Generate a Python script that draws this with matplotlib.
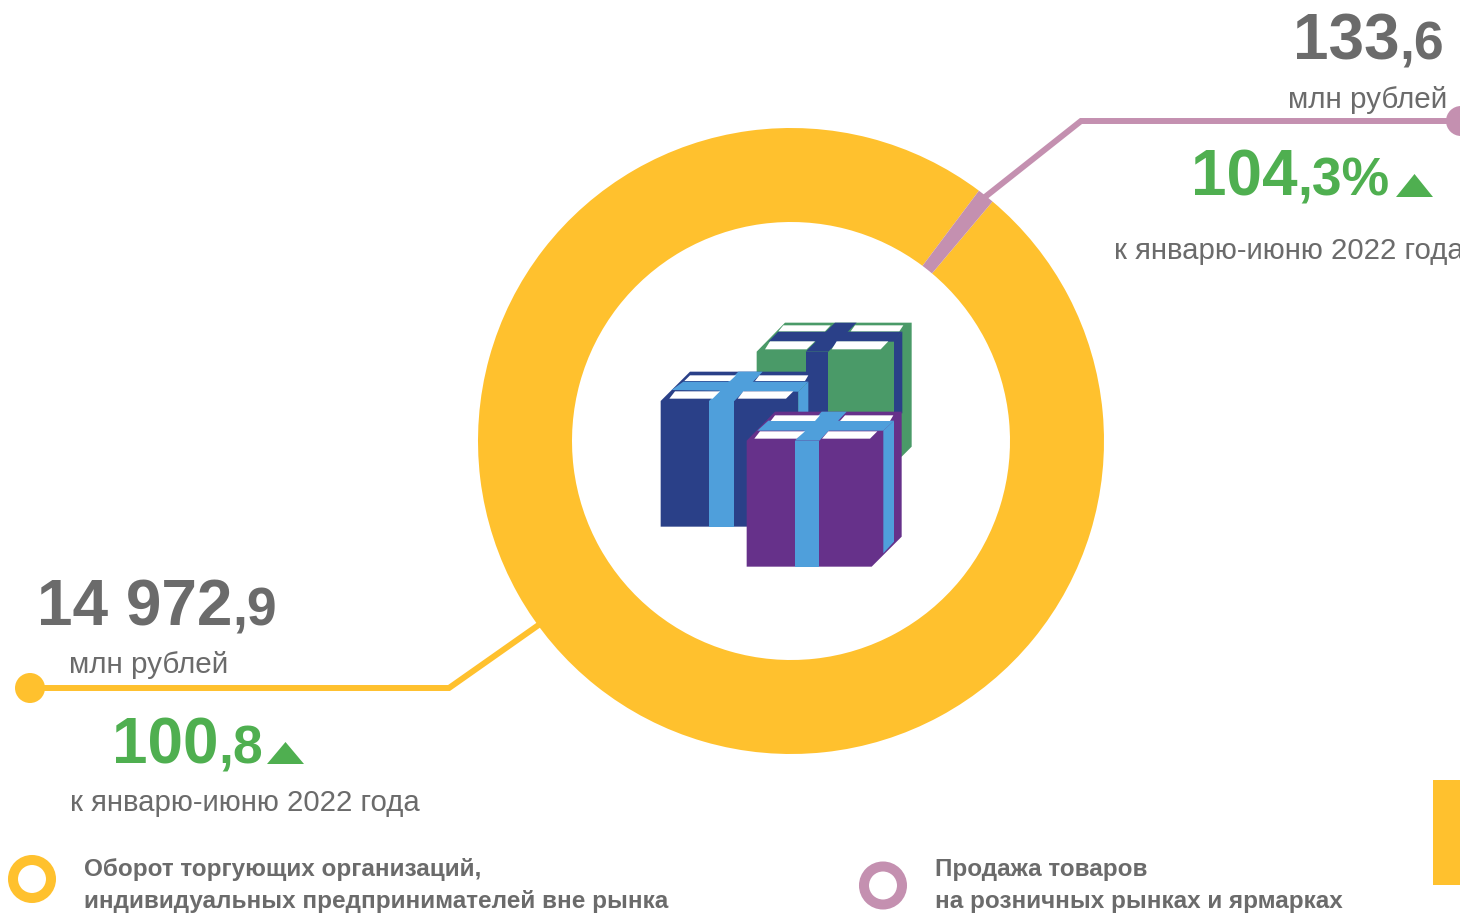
import matplotlib
matplotlib.use('Agg')
import matplotlib.pyplot as plt
from matplotlib.patches import Circle, Polygon, Rectangle

plt.rcParams['font.family'] = ['Liberation Sans', 'DejaVu Sans']

W, H = 1460, 915

# data
categories = ['Оборот торгующих организаций,\nиндивидуальных предпринимателей вне рынка',
              'Продажа товаров\nна розничных рынках и ярмарках']
values = [14972.9, 133.6]
value_int = ['14 972', '133']
value_dec = [',9', ',6']
growth_int = ['100', '104']
growth_dec = [',8', ',3%']
unit = 'млн рублей'
compare = 'к январю-июню 2022 года'

YELLOW = '#FFC12E'
PINK = '#C490B0'
GRAY = '#6B6B6B'
GREEN = '#4FAF50'
NAVY = '#2A4088'
SKY = '#4F9FDB'
PURPLE = '#66318A'
BOXGREEN = '#4A9A68'

fig = plt.figure(figsize=(W / 100, H / 100), dpi=100)

# donut
cx, cy, R = 791, 441, 313
ax_pie = fig.add_axes([(cx - R) / W, 1 - (cy + R) / H, 2 * R / W, 2 * R / H])
ax_pie.pie(values, colors=[YELLOW, PINK], startangle=53.1, radius=1,
           wedgeprops=dict(width=94 / R, linewidth=0))
ax_pie.set_xlim(-1, 1)
ax_pie.set_ylim(-1, 1)

# everything else in picture pixels
ax = fig.add_axes([0, 0, 1, 1], zorder=2)
ax.set_xlim(0, W)
ax.set_ylim(H, 0)
ax.axis('off')
ax.patch.set_alpha(0)


def px(pts):
    # icon shapes were measured on a 3x crop
    return [(640 + x / 3, 300 + y / 3) for x, y in pts]


def poly(pts, color):
    ax.add_patch(Polygon(px(pts), closed=True, fc=color, ec='none'))


def pair(x, y, big, small, color, big_size=46, small_size=38.5):
    t = ax.text(x, y, big, color=color, fontsize=big_size, fontweight='bold', va='baseline')
    w = t.get_window_extent(fig.canvas.get_renderer()).width
    ax.text(x + w, y, small, color=color, fontsize=small_size, fontweight='bold', va='baseline')


# green box
poly([(350, 155), (435, 68), (815, 68), (815, 440), (785, 470), (350, 470)], BOXGREEN)
poly([(415, 95), (787, 95), (762, 125), (385, 125)], NAVY)
poly([(585, 68), (650, 68), (565, 155), (497, 155)], NAVY)
poly([(497, 155), (565, 155), (565, 400), (497, 400)], NAVY)
poly([(762, 122), (787, 95), (787, 340), (762, 340)], NAVY)
for p in ([(430, 76), (572, 76), (555, 94), (415, 94)], [(645, 76), (790, 76), (778, 94), (632, 94)],
          [(390, 124), (525, 124), (500, 148), (375, 148)], [(590, 124), (745, 124), (722, 148), (575, 148)]):
    poly(p, 'white')

# blue box
poly([(62, 303), (150, 215), (528, 215), (475, 275), (475, 680), (62, 680)], NAVY)
poly([(130, 245), (505, 245), (475, 275), (95, 270)], SKY)
poly([(295, 215), (368, 215), (283, 303), (207, 303)], SKY)
poly([(207, 303), (281, 303), (281, 680), (207, 680)], SKY)
poly([(475, 275), (505, 245), (505, 340), (475, 340)], SKY)
for p in ([(150, 226), (288, 226), (270, 243), (133, 243)], [(358, 226), (505, 226), (495, 243), (345, 243)],
          [(105, 274), (240, 274), (218, 296), (88, 296)], [(310, 274), (460, 274), (438, 296), (293, 296)]):
    poly(p, 'white')

# purple box
poly([(320, 422), (405, 335), (785, 335), (785, 710), (695, 800), (320, 800)], PURPLE)
poly([(385, 362), (762, 362), (730, 392), (352, 392)], SKY)
poly([(545, 335), (620, 335), (538, 422), (465, 422)], SKY)
poly([(465, 422), (538, 422), (538, 800), (465, 800)], SKY)
poly([(730, 392), (762, 362), (762, 725), (730, 760)], SKY)
for p in ([(405, 346), (540, 346), (525, 363), (392, 363)], [(615, 346), (760, 346), (750, 363), (600, 363)],
          [(360, 394), (495, 394), (470, 416), (343, 416)], [(565, 394), (712, 394), (690, 416), (546, 416)]):
    poly(p, 'white')

# leader lines
ax.plot([985, 1081, 1460], [197, 121, 121], color=PINK, lw=4.3, solid_joinstyle='miter')
ax.add_patch(Circle((1461, 121), 15, fc=PINK, ec='none'))
ax.plot([30, 449, 540], [688, 688, 624], color=YELLOW, lw=4.3, solid_joinstyle='miter')
ax.add_patch(Circle((30, 688), 15, fc=YELLOW, ec='none'))

# numbers, right block
pair(1293, 60, value_int[1], value_dec[1], GRAY)
ax.text(1447, 108, unit, color=GRAY, fontsize=21.3, ha='right', va='baseline')
pair(1191, 196, growth_int[1], growth_dec[1], GREEN)
ax.add_patch(Polygon([(1396, 197), (1414.5, 174), (1433, 197)], fc=GREEN, ec='none'))
ax.text(1114, 259, compare, color=GRAY, fontsize=21.2, va='baseline')

# numbers, left block
pair(37, 626, value_int[0], value_dec[0], GRAY)
ax.text(69, 673, unit, color=GRAY, fontsize=21.3, va='baseline')
pair(112, 763, growth_int[0], growth_dec[0], GREEN)
ax.add_patch(Polygon([(267, 764), (285.5, 742), (304, 764)], fc=GREEN, ec='none'))
ax.text(70, 811, compare, color=GRAY, fontsize=21.2, va='baseline')

# legend
ax.add_patch(Circle((32, 879), 19, fc='none', ec=YELLOW, lw=7.2))
ax.add_patch(Circle((883, 885.5), 19, fc='none', ec=PINK, lw=7.2))
for x, label in zip([84, 935], categories):
    first, second = label.split('\n')
    ax.text(x, 876, first, color=GRAY, fontsize=17.5, fontweight='bold', va='baseline')
    ax.text(x, 908, second, color=GRAY, fontsize=17.5, fontweight='bold', va='baseline')

ax.add_patch(Rectangle((1433, 780), 27, 105, fc=YELLOW, ec='none'))

fig.savefig('out.png', dpi=100)
